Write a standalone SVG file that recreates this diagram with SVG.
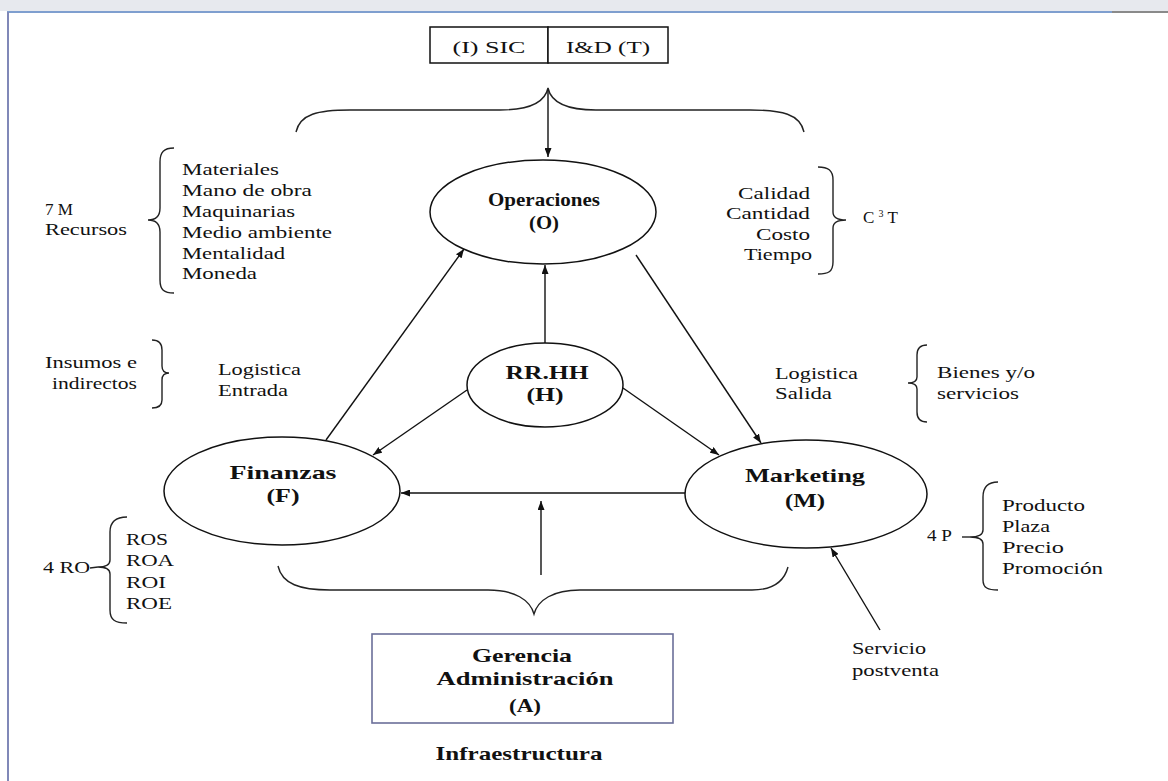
<svg xmlns="http://www.w3.org/2000/svg" width="1168" height="781" viewBox="0 0 1168 781">
<style>
.t{font-family:"Liberation Serif","Times New Roman",serif;font-size:17px;fill:#111}
.b{font-family:"Liberation Serif","Times New Roman",serif;font-size:19px;font-weight:bold;fill:#111}
.m{text-anchor:middle}
.e{text-anchor:end}
.ln{fill:none;stroke:#111;stroke-width:1.4}
.br{fill:none;stroke:#222;stroke-width:1.4}
.nd{fill:#fff;stroke:#111;stroke-width:1.5}
</style>
<defs>
<marker id="ar" markerUnits="userSpaceOnUse" markerWidth="9" markerHeight="7" refX="9" refY="3.5" orient="auto">
<path d="M0,0 L9,3.5 L0,7 Z" fill="#111"/>
</marker>
</defs>
<rect x="0" y="0" width="1168" height="781" fill="#fff"/>
<rect x="0" y="0" width="1168" height="11" fill="#e7e9ee"/>
<line x1="7" y1="12" x2="1112" y2="12" stroke="#7f9fcf" stroke-width="2"/>
<line x1="1112" y1="12" x2="1168" y2="12" stroke="#8a8a8a" stroke-width="2"/>
<line x1="8" y1="12" x2="8" y2="781" stroke="#8088b8" stroke-width="2"/>

<g id="top-box">
<rect x="430" y="27" width="118" height="36" fill="#fff" stroke="#111" stroke-width="1.5"/>
<rect x="548" y="27" width="120" height="36" fill="#fff" stroke="#111" stroke-width="1.5"/>
<text class="t m" x="489" y="53" font-size="18" textLength="73" lengthAdjust="spacingAndGlyphs">(I) SIC</text>
<text class="t m" x="608" y="53" font-size="18" textLength="84" lengthAdjust="spacingAndGlyphs">I&amp;D (T)</text>
</g>

<g id="braces">
<path class="br" d="M296,132 C300,114 318,110 350,110 L500,110 C530,110 545,102 548,88 C551,102 566,110 596,110 L750,110 C782,110 800,114 804,132"/>
<path class="br" d="M278,566 C282,584 300,590 330,590 L488,590 C515,590 530,600 534,614 C538,600 553,590 580,590 L752,590 C772,590 784,582 788,567"/>
<path class="br" d="M174,148 C164,148 160,152 160,162 L160,208 C160,216 156,220 148,220 C156,220 160,224 160,232 L160,280 C160,290 164,293 174,293"/>
<path class="br" d="M152,340 C158,340 162,343 162,350 L162,366 C162,370 164,373 169,373 C164,373 162,376 162,380 L162,400 C162,406 158,408 152,408"/>
<path class="br" d="M818,167 C828,167 833,170 833,180 L833,212 C833,218 838,220 846,220 C838,220 833,222 833,228 L833,262 C833,272 828,274 818,274"/>
<path class="br" d="M927,345 C920,345 917,348 917,355 L917,377 C917,381 914,383 908,383 C914,383 917,385 917,389 L917,412 C917,419 920,422 927,422"/>
<path class="br" d="M127,517 C115,517 110,522 110,532 L110,560 C110,565 106,567 98,567 C106,567 110,569 110,574 L110,610 C110,620 115,623 127,623"/>
<path class="br" d="M998,482 C988,482 983,487 983,497 L983,530 C983,535 978,537 970,537 C978,537 983,539 983,544 L983,580 C983,588 988,590 998,590"/>
</g>

<g id="connectors">
<line class="ln" x1="548" y1="90" x2="548" y2="157" marker-end="url(#ar)"/>
<line class="ln" x1="326" y1="440" x2="464" y2="249" marker-end="url(#ar)"/>
<line class="ln" x1="545" y1="343" x2="545" y2="265" marker-end="url(#ar)"/>
<line class="ln" x1="636" y1="255" x2="761" y2="443" marker-end="url(#ar)"/>
<line class="ln" x1="467" y1="390" x2="373" y2="455" marker-end="url(#ar)"/>
<line class="ln" x1="623" y1="388" x2="719" y2="455" marker-end="url(#ar)"/>
<line class="ln" x1="686" y1="493" x2="401" y2="493" marker-end="url(#ar)"/>
<line class="ln" x1="541" y1="575" x2="541" y2="501" marker-end="url(#ar)"/>
<line class="ln" x1="880" y1="630" x2="831" y2="548" marker-end="url(#ar)"/>
</g>

<g id="operaciones">
<ellipse class="nd" cx="543" cy="212" rx="113" ry="52"/>
<text class="b m" x="544" y="206" textLength="112" lengthAdjust="spacingAndGlyphs">Operaciones</text>
<text class="b m" x="544" y="229" textLength="30" lengthAdjust="spacingAndGlyphs">(O)</text>
</g>

<g id="rrhh">
<ellipse class="nd" cx="545" cy="385" rx="78" ry="42"/>
<text class="b m" x="547" y="379" textLength="83" lengthAdjust="spacingAndGlyphs">RR.HH</text>
<text class="b m" x="545" y="401" textLength="37" lengthAdjust="spacingAndGlyphs">(H)</text>
</g>

<g id="finanzas">
<ellipse class="nd" cx="282" cy="491" rx="118" ry="54"/>
<text class="b m" x="283" y="479" textLength="107" lengthAdjust="spacingAndGlyphs">Finanzas</text>
<text class="b m" x="283" y="502" textLength="33" lengthAdjust="spacingAndGlyphs">(F)</text>
</g>

<g id="marketing">
<ellipse class="nd" cx="806" cy="494" rx="121" ry="54"/>
<text class="b m" x="805" y="482" textLength="120" lengthAdjust="spacingAndGlyphs">Marketing</text>
<text class="b m" x="805" y="507" textLength="40" lengthAdjust="spacingAndGlyphs">(M)</text>
</g>

<g id="gerencia">
<rect x="372" y="634" width="301" height="89" fill="#fff" stroke="#6b6f99" stroke-width="1.6"/>
<text class="b m" x="522" y="662" textLength="100" lengthAdjust="spacingAndGlyphs">Gerencia</text>
<text class="b m" x="525" y="685" textLength="177" lengthAdjust="spacingAndGlyphs">Administración</text>
<text class="b m" x="525" y="712" textLength="32" lengthAdjust="spacingAndGlyphs">(A)</text>
</g>
<text class="b m" x="519" y="760" textLength="167" lengthAdjust="spacingAndGlyphs">Infraestructura</text>

<g id="labels-7m">
<text class="t" x="45" y="215" textLength="28" lengthAdjust="spacingAndGlyphs">7 M</text>
<text class="t" x="45" y="235" textLength="82" lengthAdjust="spacingAndGlyphs">Recursos</text>
<text class="t" x="182" y="175" textLength="97" lengthAdjust="spacingAndGlyphs">Materiales</text>
<text class="t" x="182" y="196" textLength="130" lengthAdjust="spacingAndGlyphs">Mano de obra</text>
<text class="t" x="182" y="217" textLength="113" lengthAdjust="spacingAndGlyphs">Maquinarias</text>
<text class="t" x="182" y="238" textLength="150" lengthAdjust="spacingAndGlyphs">Medio ambiente</text>
<text class="t" x="182" y="259" textLength="103" lengthAdjust="spacingAndGlyphs">Mentalidad</text>
<text class="t" x="182" y="279" textLength="75" lengthAdjust="spacingAndGlyphs">Moneda</text>
</g>

<g id="labels-insumos">
<text class="t" x="45" y="368" textLength="92" lengthAdjust="spacingAndGlyphs">Insumos e</text>
<text class="t" x="52" y="389" textLength="85" lengthAdjust="spacingAndGlyphs">indirectos</text>
<text class="t" x="218" y="375" textLength="83" lengthAdjust="spacingAndGlyphs">Logistica</text>
<text class="t" x="218" y="396" textLength="70" lengthAdjust="spacingAndGlyphs">Entrada</text>
</g>

<g id="labels-c3t">
<text class="t e" x="810" y="199" textLength="72" lengthAdjust="spacingAndGlyphs">Calidad</text>
<text class="t e" x="810" y="219" textLength="84" lengthAdjust="spacingAndGlyphs">Cantidad</text>
<text class="t e" x="810" y="240" textLength="54" lengthAdjust="spacingAndGlyphs">Costo</text>
<text class="t e" x="812" y="260" textLength="68" lengthAdjust="spacingAndGlyphs">Tiempo</text>
<text class="t" x="863" y="223">C <tspan font-size="10" dy="-6">3</tspan><tspan dy="6"> T</tspan></text>
</g>

<g id="labels-salida">
<text class="t" x="775" y="379" textLength="83" lengthAdjust="spacingAndGlyphs">Logistica</text>
<text class="t" x="775" y="399" textLength="57" lengthAdjust="spacingAndGlyphs">Salida</text>
<text class="t" x="937" y="378" textLength="98" lengthAdjust="spacingAndGlyphs">Bienes y/o</text>
<text class="t" x="937" y="399" textLength="82" lengthAdjust="spacingAndGlyphs">servicios</text>
</g>

<g id="labels-4ro">
<text class="t" x="43" y="573" textLength="47" lengthAdjust="spacingAndGlyphs">4 RO</text>
<line class="br" x1="90" y1="568" x2="98" y2="567"/>
<text class="t" x="126" y="545" textLength="42" lengthAdjust="spacingAndGlyphs">ROS</text>
<text class="t" x="126" y="566" textLength="48" lengthAdjust="spacingAndGlyphs">ROA</text>
<text class="t" x="126" y="588" textLength="40" lengthAdjust="spacingAndGlyphs">ROI</text>
<text class="t" x="126" y="609" textLength="46" lengthAdjust="spacingAndGlyphs">ROE</text>
</g>

<g id="labels-4p">
<text class="t" x="927" y="541" textLength="25" lengthAdjust="spacingAndGlyphs">4 P</text>
<line class="br" x1="962" y1="537" x2="970" y2="537"/>
<text class="t" x="1002" y="511" textLength="83" lengthAdjust="spacingAndGlyphs">Producto</text>
<text class="t" x="1002" y="532" textLength="48" lengthAdjust="spacingAndGlyphs">Plaza</text>
<text class="t" x="1002" y="553" textLength="62" lengthAdjust="spacingAndGlyphs">Precio</text>
<text class="t" x="1002" y="574" textLength="101" lengthAdjust="spacingAndGlyphs">Promoción</text>
</g>

<g id="labels-servicio">
<text class="t" x="852" y="654" textLength="74" lengthAdjust="spacingAndGlyphs">Servicio</text>
<text class="t" x="852" y="676" textLength="87" lengthAdjust="spacingAndGlyphs">postventa</text>
</g>
</svg>
